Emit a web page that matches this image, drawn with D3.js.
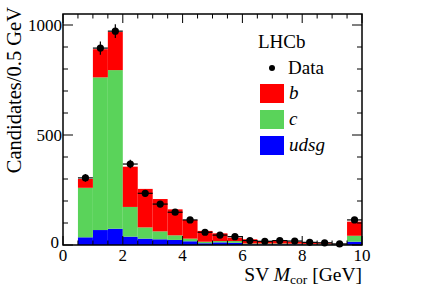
<!DOCTYPE html>
<html><head><meta charset="utf-8">
<script src="https://cdn.jsdelivr.net/npm/d3@7"></script>
<style>body{margin:0;background:#fff}svg{display:block}text{font-family:"Liberation Serif","Times New Roman",serif;fill:#000}</style>
</head><body><svg id="c" width="427" height="290"></svg>
<script>
const binLow = [0.5,1.0,1.5,2.0,2.5,3.0,3.5,4.0,4.5,5.0,5.5,6.0,6.5,7.0,7.5,8.0,8.5,9.0,9.5];
const binWidth = 0.5;
const udsg = [35,68,74,38,29,26,23,17,8,12,10,3,3,3,3,2,2,1,15];
const cjet = [225,694,721,135,51,36,21,12,7,6,8,4,4,4,3,3,3,1,27];
const bjet = [40,128,173,183,175,147,118,85,49,35,15,19,11,11,9,5,3,1,64];
const data = [305,895,972,368,235,186,149,114,58,45,38,20,17,20,18,12,10,5,114];
const dataErr = [17,30,31,19,15,14,12,11,8,7,6,4,4,4,4,3,3,2,11];
const xTicks = [0,2,4,6,8,10];
const yTicks = [0,500,1000];
const colors = {b:"#ff0000", c:"#5ad35a", udsg:"#0000ff"};

const svg = d3.select("#c");
const L=63,R=362,T=14,B=245;
const x = d3.scaleLinear().domain([0,10]).range([L,R]);
const y = d3.scaleLinear().domain([0,1050]).range([B,T]);

const rows = binLow.map((lo,i)=>({lo, udsg:udsg[i], c:cjet[i], b:bjet[i]}));
const stack = d3.stack().keys(["udsg","c","b"])(rows);
const g = svg.append("g");
stack.forEach(layer=>{
  g.selectAll(null).data(layer).enter().append("rect")
    .attr("x",d=>x(d.data.lo)).attr("width",d=>x(d.data.lo+binWidth)-x(d.data.lo))
    .attr("y",d=>y(d[1])).attr("height",d=>y(d[0])-y(d[1]))
    .attr("fill",colors[layer.key]);
});

// data points
const pts = svg.append("g");
binLow.forEach((lo,i)=>{
  const cx = x(lo+binWidth/2), cy=y(data[i]);
  pts.append("line").attr("x1",x(lo)).attr("x2",x(lo+binWidth)).attr("y1",cy).attr("y2",cy).attr("stroke","#000").attr("stroke-width",1.2);
  pts.append("line").attr("x1",cx).attr("x2",cx).attr("y1",y(data[i]-dataErr[i])).attr("y2",y(data[i]+dataErr[i])).attr("stroke","#000").attr("stroke-width",1.2);
  pts.append("circle").attr("cx",cx).attr("cy",cy).attr("r",3.6).attr("fill","#000");
});

// frame
svg.append("rect").attr("x",L).attr("y",T).attr("width",R-L).attr("height",B-T).attr("fill","none").attr("stroke","#000").attr("stroke-width",1.5);

// ticks
const ax = svg.append("g").attr("stroke","#000").attr("stroke-width",1);
d3.range(0,10.01,0.5).forEach(v=>{
  const len = (Math.abs(v%2)<1e-6)?9:4.5;
  ax.append("line").attr("x1",x(v)).attr("x2",x(v)).attr("y1",B).attr("y2",B-len);
  ax.append("line").attr("x1",x(v)).attr("x2",x(v)).attr("y1",T).attr("y2",T+len);
});
d3.range(0,1001,100).forEach(v=>{
  const len = (v%500===0)?10:5;
  ax.append("line").attr("x1",L).attr("x2",L+len).attr("y1",y(v)).attr("y2",y(v));
  ax.append("line").attr("x1",R).attr("x2",R-len).attr("y1",y(v)).attr("y2",y(v));
});
xTicks.forEach(v=>{
  svg.append("text").attr("x",x(v)).attr("y",B+16).attr("text-anchor","middle").attr("font-size",17).text(v);
});
yTicks.forEach(v=>{
  svg.append("text").attr("x",v===0?L-4:L-1).attr("y",y(v)+(v===0?3:5.5)).attr("text-anchor","end").attr("font-size",17).text(v);
});

// axis titles
const xt = svg.append("text").attr("x",R).attr("y",281).attr("text-anchor","end").attr("font-size",19.5);
xt.append("tspan").text("SV ");
xt.append("tspan").attr("font-style","italic").text("M");
xt.append("tspan").attr("font-size",13.5).attr("dy",3).text("cor");
xt.append("tspan").attr("dy",-3).text(" [GeV]");
svg.append("text").attr("transform","translate(21,7) rotate(-90)").attr("text-anchor","end").attr("font-size",20.5).text("Candidates/0.5 GeV");

// legend
svg.append("text").attr("x",258).attr("y",48).attr("font-size",19).text("LHCb");
svg.append("circle").attr("cx",272).attr("cy",68).attr("r",3).attr("fill","#000");
svg.append("text").attr("x",288).attr("y",74).attr("font-size",19).text("Data");
const leg = [["b",colors.b],["c",colors.c],["udsg",colors.udsg]];
leg.forEach((d,i)=>{
  const yy = 84+i*26;
  svg.append("rect").attr("x",260).attr("y",yy).attr("width",24).attr("height",19).attr("fill",d[1]);
  svg.append("text").attr("x",289).attr("y",yy+15).attr("font-size",19).attr("font-style","italic").text(d[0]);
});
</script></body></html>
